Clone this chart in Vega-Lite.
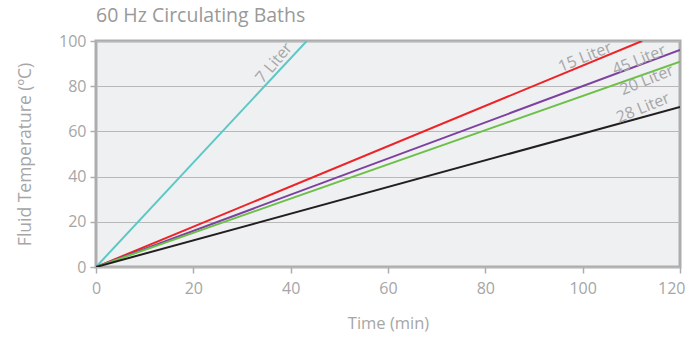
{
  "$schema": "https://vega.github.io/schema/vega-lite/v6.json",
  "width": 584,
  "height": 226,
  "autosize": {"type": "none"},
  "padding": {"left": 96, "top": 41, "right": 6, "bottom": 72},
  "background": "white",
  "title": {
    "text": "60 Hz Circulating Baths",
    "anchor": "start",
    "frame": "group",
    "font": "Open Sans",
    "fontSize": 19.5,
    "fontWeight": "normal",
    "color": "#999999",
    "offset": 7
  },
  "datasets": {
    "lines": [
      {"bath": "7 Liter", "time": 0, "temp": 0},
      {"bath": "7 Liter", "time": 43.3, "temp": 100},
      {"bath": "15 Liter", "time": 0, "temp": 0},
      {"bath": "15 Liter", "time": 112.2, "temp": 100},
      {"bath": "45 Liter", "time": 0, "temp": 0},
      {"bath": "45 Liter", "time": 120, "temp": 96},
      {"bath": "20 Liter", "time": 0, "temp": 0},
      {"bath": "20 Liter", "time": 120, "temp": 90.8},
      {"bath": "28 Liter", "time": 0, "temp": 0},
      {"bath": "28 Liter", "time": 120, "temp": 70.8}
    ],
    "labels": [
      {"bath": "7 Liter", "time": 36.6, "temp": 90.3},
      {"bath": "15 Liter", "time": 100.5, "temp": 92.9},
      {"bath": "45 Liter", "time": 111.6, "temp": 91.6},
      {"bath": "20 Liter", "time": 113.2, "temp": 82.7},
      {"bath": "28 Liter", "time": 112.4, "temp": 70.4}
    ]
  },
  "layer": [
    {
      "data": {"name": "lines"},
      "mark": {"type": "line", "strokeWidth": 2, "clip": true},
      "encoding": {
        "x": {
          "field": "time", "type": "quantitative",
          "scale": {"domain": [0, 120], "nice": false},
          "axis": {
            "title": "Time (min)",
            "values": [0, 20, 40, 60, 80, 100, 120],
            "grid": false,
            "labelFlush": false,
            "labelAlign": {"expr": "datum.value === 120 ? 'right' : 'center'"},
            "labelOffset": {"expr": "datum.value === 120 ? 5 : 0"},
            "labelPadding": 7,
            "titleFontSize": 16.5,
            "titlePadding": 19
          }
        },
        "y": {
          "field": "temp", "type": "quantitative",
          "scale": {"domain": [0, 100], "nice": false},
          "axis": {"title": "Fluid Temperature (ºC)", "values": [0, 20, 40, 60, 80, 100], "grid": true, "labelFlush": false, "titleFontSize": 17.5, "titlePadding": 24}
        },
        "color": {
          "field": "bath", "type": "nominal",
          "scale": {
            "domain": ["7 Liter", "15 Liter", "45 Liter", "20 Liter", "28 Liter"],
            "range": ["#5cc8c4", "#ec2327", "#7d41a0", "#6cbf47", "#231f20"]
          },
          "legend": null
        },
        "detail": {"field": "bath"}
      }
    },
    {
      "data": {"name": "labels"},
      "transform": [{"filter": "datum.bath === '7 Liter'"}],
      "mark": {"type": "text", "angle": -50, "font": "Open Sans", "fontSize": 16, "color": "#a6a6a6", "align": "center", "baseline": "middle"},
      "encoding": {
        "x": {"field": "time", "type": "quantitative"},
        "y": {"field": "temp", "type": "quantitative"},
        "text": {"field": "bath"}
      }
    },
    {
      "data": {"name": "labels"},
      "transform": [{"filter": "datum.bath !== '7 Liter'"}],
      "mark": {"type": "text", "angle": -22, "font": "Open Sans", "fontSize": 16, "color": "#a6a6a6", "align": "center", "baseline": "middle"},
      "encoding": {
        "x": {"field": "time", "type": "quantitative"},
        "y": {"field": "temp", "type": "quantitative"},
        "text": {"field": "bath"}
      }
    }
  ],
  "config": {
    "view": {"stroke": "#adadad", "strokeWidth": 3, "fill": "#eff0f2"},
    "axis": {
      "domain": false,
      "tickColor": "#adadad",
      "tickSize": 6,
      "tickWidth": 1.5,
      "gridColor": "#b8b8b8",
      "gridWidth": 1,
      "labelFont": "Open Sans",
      "labelFontSize": 16,
      "labelColor": "#a6a6a6",
      "labelPadding": 4,
      "titleFont": "Open Sans",
      "titleFontSize": 15,
      "titleFontWeight": "normal",
      "titleColor": "#a6a6a6"
    }
  }
}
